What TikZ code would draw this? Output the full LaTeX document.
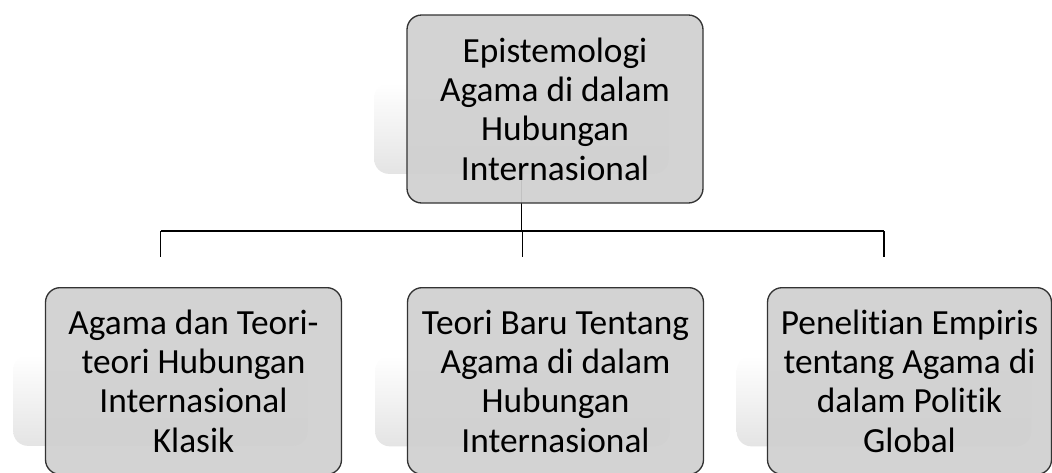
\documentclass[tikz,border=0pt]{standalone}
\usepackage{fontspec}
\setmainfont[Ligatures=NoCommon]{Carlito}
\usepackage{tikz}
\usetikzlibrary{positioning,calc,backgrounds}
\usepackage{xcolor}
\definecolor{boxFill}{HTML}{D0D0D0}
\definecolor{boxEdge}{HTML}{333333}
\definecolor{shadeLow}{HTML}{E4E4E4}

\tikzset{
  topic/.style={draw=boxEdge,line width=1pt,fill=boxFill,fill opacity=0.93,text opacity=1,
    rounded corners=11pt,minimum width=222pt,minimum height=141pt,align=center,
    font=\fontsize{26.5}{29.5}\selectfont},
  ghost/.style={rounded corners=11pt,top color=white,bottom color=shadeLow,
    minimum width=221pt,minimum height=68pt},
  link/.style={draw=black,line width=1pt}
}

\begin{document}
\begin{tikzpicture}[x=0.75pt,y=-0.75pt]
  \useasboundingbox (0,0) rectangle (1052,472);
  % soft panels behind the boxes
  \node[ghost] (topbg) at (521.5,128.5) {};
  \node[ghost] (leftbg) at (160.5,400.5) {};
  \node[ghost] (midbg) at (522.5,401) {};
  \node[ghost] (rightbg) at (884,401) {};
  % connectors
  \coordinate (bus) at (0,231);
  \draw[link] (topbg.south) -- (topbg.south |- bus);
  \draw[link] (leftbg |- bus) -- (rightbg |- bus);
  \foreach \n in {leftbg,midbg,rightbg}
    \draw[link] (\n |- bus) -- ++(0,26);
  % boxes
  \node[topic] (root) at (555,109) {Epistemologi\\Agama di dalam\\Hubungan\\Internasional};
  \node[topic,minimum height=140pt] (classic) at (193.5,381) {Agama dan Teori-\\teori Hubungan\\Internasional\\Klasik};
  \node[topic,minimum height=140pt] (newtheory) at (555.5,381) {Teori Baru Tentang\\Agama di dalam\\Hubungan\\Internasional};
  \node[topic,minimum height=140pt,minimum width=213pt] (empiric) at (909.5,381) {Penelitian Empiris\\tentang Agama di\\dalam Politik\\Global};
\end{tikzpicture}
\end{document}
